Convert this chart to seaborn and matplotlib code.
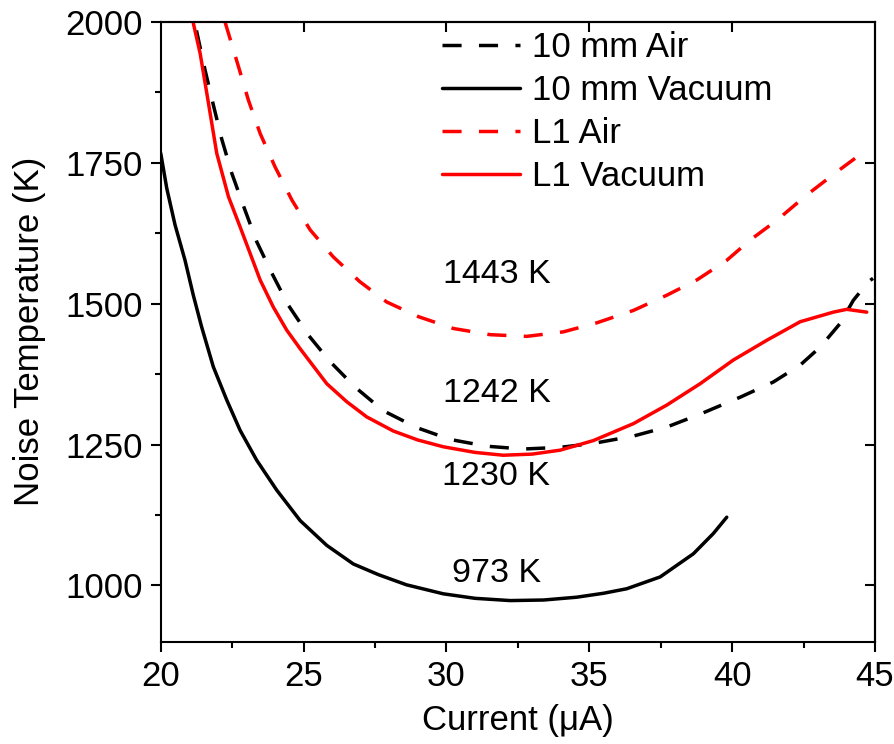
import numpy as np
import pandas as pd
import matplotlib
matplotlib.use("Agg")
import matplotlib.pyplot as plt
import seaborn as sns

# ---- data ----
air10_x = [21.25, 21.55, 21.84, 22.13, 22.49, 22.95, 23.36, 23.89, 24.47, 25.17, 25.93, 26.80, 27.79,
           28.96, 30.13, 31.41, 32.69, 33.98, 35.14, 36.54, 37.71, 38.88, 40.28, 41.44, 42.38, 43.08,
           43.78, 44.24, 44.77, 44.93]
air10_y = [1985, 1915, 1853, 1793, 1731, 1666, 1610, 1554, 1497, 1444, 1397, 1352, 1310,
           1280, 1259, 1247, 1242, 1245, 1252, 1265, 1281, 1304, 1334, 1361, 1391, 1423,
           1465, 1506, 1539, 1545]

vac10_x = [20.0, 20.21, 20.50, 20.85, 21.14, 21.43, 21.84, 22.31, 22.78, 23.36, 24.06, 24.88, 25.81,
           26.74, 27.62, 28.60, 29.89, 31.00, 32.23, 33.40, 34.56, 35.50, 36.31, 37.48, 38.64, 39.34, 39.81]
vac10_y = [1767, 1705, 1640, 1577, 1515, 1459, 1388, 1329, 1275, 1222, 1169, 1115, 1071,
           1038, 1019, 1001, 985, 977, 973, 974, 979, 986, 994, 1015, 1056, 1092, 1121]

l1air_x = [22.25, 22.72, 23.07, 23.48, 24.0, 24.59, 25.23, 26.04, 26.97, 27.91, 29.02, 30.24, 31.53,
           32.81, 34.09, 35.26, 36.54, 37.71, 38.76, 39.81, 40.63, 41.56, 42.61, 43.66, 44.3]
l1air_y = [2000, 1921, 1861, 1802, 1743, 1684, 1631, 1583, 1539, 1503, 1477, 1456, 1445,
           1442, 1450, 1466, 1488, 1515, 1542, 1577, 1613, 1648, 1693, 1734, 1758]

l1vac_x = [21.14, 21.38, 21.67, 21.96, 22.37, 22.78, 23.13, 23.48, 23.94, 24.41, 24.88, 25.81, 26.51,
           27.21, 28.14, 29.00, 29.89, 31.00, 31.99, 33.00, 33.98, 35.14, 36.54, 37.71, 38.88, 40.04,
           41.21, 42.38, 43.54, 44.01, 44.71]
l1vac_y = [1998, 1944, 1856, 1767, 1690, 1636, 1589, 1542, 1494, 1453, 1420, 1358, 1326,
           1299, 1274, 1258, 1246, 1236, 1231, 1233, 1240, 1257, 1287, 1320, 1358, 1400,
           1435, 1468, 1485, 1490, 1485]

series_names = ["10 mm Air", "10 mm Vacuum", "L1 Air", "L1 Vacuum"]
annot_text = ["1443 K", "1242 K", "1230 K", "973 K"]
annot_x = [31.75, 31.75, 31.75, 31.75]
annot_y = [1551, 1341, 1194, 1021]

x_ticks = [20, 25, 30, 35, 40, 45]
y_ticks = [1000, 1250, 1500, 1750, 2000]

# ---- style ----
sns.set_theme(style="ticks")
plt.rcParams["font.family"] = ["Liberation Sans", "DejaVu Sans"]
for k in ["text.color", "axes.labelcolor", "xtick.color", "ytick.color", "axes.edgecolor"]:
    plt.rcParams[k] = "black"
plt.rcParams["axes.linewidth"] = 1.5

FS = 25
FS_ANN = 24.5

fig = plt.figure(figsize=(8.95, 7.44), dpi=100)
ax = fig.add_axes([0.1796, 0.1375, 0.9777 - 0.1796, 0.9704 - 0.1375])

dash = (5.5, 5)
specs = [
    (air10_x, air10_y, "black", dash),
    (vac10_x, vac10_y, "black", None),
    (l1air_x, l1air_y, "#ff0000", dash),
    (l1vac_x, l1vac_y, "#ff0000", None),
]
for (xs, ys, col, ds), name in zip(specs, series_names):
    df = pd.DataFrame({"x": xs, "y": ys})
    sns.lineplot(data=df, x="x", y="y", ax=ax, color=col, lw=2.5,
                 sort=False, estimator=None, label=name)
    l = ax.get_lines()[-1]
    l.set_solid_joinstyle("round")
    if ds is not None:
        l.set_dashes(ds)
        l.set_dash_capstyle("butt")

for t, xx, yy in zip(annot_text, annot_x, annot_y):
    ax.text(xx, yy, t, fontsize=FS_ANN, ha="center", va="center", color="black")

ax.set_xlim(20, 45)
ax.set_ylim(900, 2000)
ax.set_xticks(x_ticks)
ax.set_yticks(y_ticks)
ax.set_xticks([22.5, 27.5, 32.5, 37.5, 42.5], minor=True)
ax.set_yticks([1125, 1375, 1625, 1875], minor=True)
ax.tick_params(which="major", direction="out", length=7, width=1.5, labelsize=FS, colors="black")
ax.tick_params(which="minor", direction="out", length=4, width=1.5, colors="black")
ax.tick_params(axis="x", pad=6)
ax.tick_params(axis="y", pad=6)
for s in ax.spines.values():
    s.set_visible(True)
    s.set_color("black")
    s.set_linewidth(1.5)

sec_top = ax.secondary_xaxis("top")
sec_top.set_xticks([25, 30, 35, 40])
sec_top.tick_params(direction="in", length=7, width=1.5, labeltop=False, colors="black")
sec_right = ax.secondary_yaxis("right")
sec_right.set_yticks([1000, 1250, 1500, 1750])
sec_right.tick_params(direction="in", length=7, width=1.5, labelright=False, colors="black")

ax.set_xlabel("Current (μA)", fontsize=FS, labelpad=8, color="black")
ax.set_ylabel("Noise Temperature (K)", fontsize=FS, labelpad=14, color="black")

leg = ax.legend(loc="upper left", bbox_to_anchor=(0.394, 0.986), frameon=False, fontsize=FS,
                handlelength=2.25, handletextpad=0.35, labelspacing=0.29,
                borderpad=0, borderaxespad=0)
for txt in leg.get_texts():
    txt.set_color("black")

fig.savefig("out.png", dpi=100)
